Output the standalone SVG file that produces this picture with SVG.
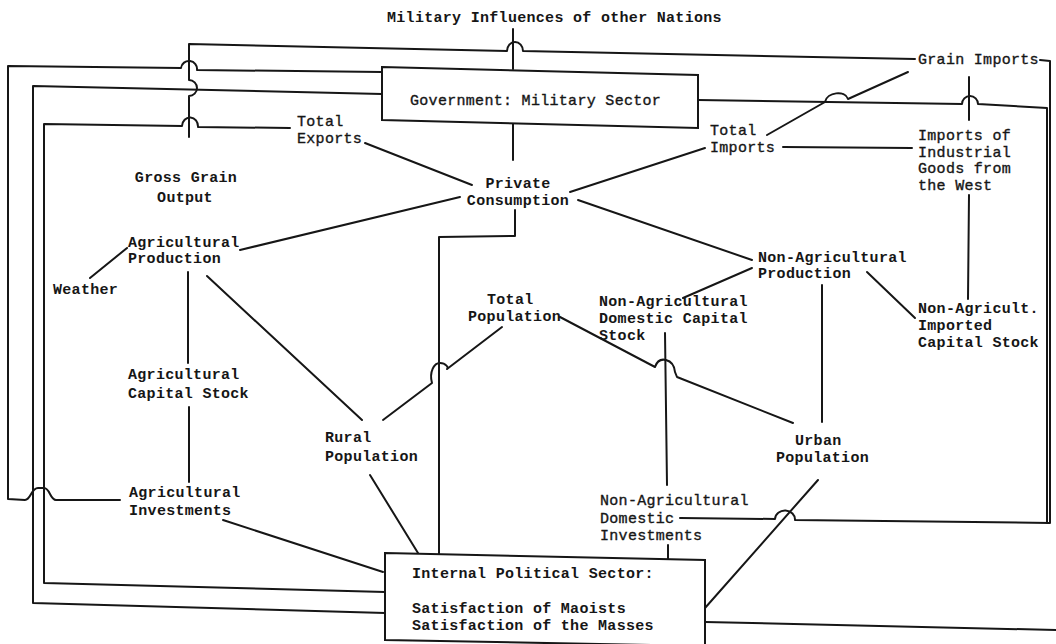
<svg xmlns="http://www.w3.org/2000/svg" width="1056" height="644" viewBox="0 0 1056 644">
<style>
.t{font-family:"Liberation Mono","DejaVu Sans Mono",monospace;font-size:15px;letter-spacing:0.3px;fill:#161616;font-weight:bold}
.r{font-weight:normal;stroke:#161616;stroke-width:0.35px}
.m{text-anchor:middle}
.ln{fill:none;stroke:#161616;stroke-width:2;stroke-linejoin:round;stroke-linecap:round}
.box{fill:#fff;stroke:#161616;stroke-width:2}
</style>
<rect width="1056" height="644" fill="#fff"/>
<g id="connectors" class="ln">
  <path d="M915,59 L523,51 A8,9 0 0 0 507,51 L189,44 L189,80 A8,8 0 0 1 189,96 L189,137"/>
  <path d="M120,500 L56,500 C50,500 50,488 44,488 L38,488 C31,488 31,500 25,500 L8,499 L8,66 L181,68 A8,8 0 0 1 197,70 L382,72"/>
  <path d="M382,94 L33,86 L33,603 L385,613"/>
  <path d="M290,128 L198,127 A8,9 0 0 0 182,126 L44,124 L44,583 L385,592"/>
  <path d="M513,29 L513,69"/>
  <path d="M513,123 L513,160"/>
  <path d="M515,210 L515,236 L439,237 L439,554"/>
  <path d="M365,143 L472,185"/>
  <path d="M460,197 L240,250"/>
  <path d="M578,200 L752,260"/>
  <path d="M570,192 L705,148"/>
  <path d="M783,147 L912,148"/>
  <path d="M767,135 L825,102 C827,92 845,90 848,99 L908,72"/>
  <path d="M698,100 L962,104 A8,8 0 0 1 978,104 L1047,108 L1047,523"/>
  <path d="M1040,60 L1050,61 L1050,523 L795,520 A10,9 0 0 0 775,519 L680,518"/>
  <path d="M969,77 L969,120 M969,195 L968,299"/>
  <path d="M90,278 L127,248"/>
  <path d="M188,272 L188,363"/>
  <path d="M189,407 L189,482"/>
  <path d="M223,520 L383,572"/>
  <path d="M207,276 L362,420"/>
  <path d="M370,475 L418,553"/>
  <path d="M383,420 L432,383 C429,372 434,363 440,363 C446,363 449,368 447,369 L502,327"/>
  <path d="M560,317 L655,367 Q658,358 666,360 Q674,362 675,372 L677,377 L793,423"/>
  <path d="M683,298 L752,268"/>
  <path d="M867,272 L915,318"/>
  <path d="M822,285 L822,422"/>
  <path d="M665,333 L667,485"/>
  <path d="M668,545 L668,559"/>
  <path d="M818,480 L705,608"/>
  <path d="M705,622 L1056,630"/>
</g>
<g id="n-military-influences"><text class="t" x="387" y="22">Military Influences of other Nations</text></g>
<g id="n-grain-imports"><text class="t r" x="918" y="64">Grain Imports</text></g>
<g id="n-government">
  <path class="box" d="M382,67 L698,75 L698,128 L382,120 Z"/>
  <text class="t r" x="410" y="105">Government: Military Sector</text>
</g>
<g id="n-total-exports"><text class="t r" x="297" y="126">Total</text><text class="t r" x="297" y="143">Exports</text></g>
<g id="n-total-imports"><text class="t r" x="710" y="135">Total</text><text class="t r" x="710" y="152">Imports</text></g>
<g id="n-industrial-imports"><text class="t r" x="918" y="140">Imports of</text><text class="t r" x="918" y="157">Industrial</text><text class="t r" x="918" y="173">Goods from</text><text class="t r" x="918" y="190">the West</text></g>
<g id="n-gross-grain"><text class="t m" x="186" y="182">Gross Grain</text><text class="t m" x="185" y="202">Output</text></g>
<g id="n-private-consumption"><text class="t m" x="518" y="188">Private</text><text class="t m" x="518" y="205">Consumption</text></g>
<g id="n-agri-production"><text class="t" x="128" y="247">Agricultural</text><text class="t" x="128" y="263">Production</text></g>
<g id="n-weather"><text class="t" x="53" y="294">Weather</text></g>
<g id="n-agri-capital"><text class="t" x="128" y="379">Agricultural</text><text class="t" x="128" y="398">Capital Stock</text></g>
<g id="n-agri-investments"><text class="t" x="129" y="497">Agricultural</text><text class="t" x="129" y="515">Investments</text></g>
<g id="n-rural"><text class="t" x="325" y="442">Rural</text><text class="t" x="325" y="461">Population</text></g>
<g id="n-total-population"><text class="t" x="487" y="304">Total</text><text class="t" x="468" y="321">Population</text></g>
<g id="n-nonagri-dom-capital"><text class="t" x="599" y="306">Non-Agricultural</text><text class="t" x="599" y="323">Domestic Capital</text><text class="t" x="599" y="340">Stock</text></g>
<g id="n-nonagri-production"><text class="t" x="758" y="262">Non-Agricultural</text><text class="t" x="758" y="278">Production</text></g>
<g id="n-nonagri-imported"><text class="t" x="918" y="313">Non-Agricult.</text><text class="t" x="918" y="330">Imported</text><text class="t" x="918" y="347">Capital Stock</text></g>
<g id="n-urban"><text class="t" x="795" y="445">Urban</text><text class="t" x="776" y="462">Population</text></g>
<g id="n-nonagri-dom-invest"><text class="t r" x="600" y="505">Non-Agricultural</text><text class="t r" x="600" y="523">Domestic</text><text class="t r" x="600" y="540">Investments</text></g>
<g id="n-internal-political">
  <path class="box" d="M385,553 L705,560 L705,646 L385,640 Z"/>
  <text class="t" x="412" y="578">Internal Political Sector:</text>
  <text class="t" x="412" y="613">Satisfaction of Maoists</text>
  <text class="t" x="412" y="630">Satisfaction of the Masses</text>
</g>
</svg>
